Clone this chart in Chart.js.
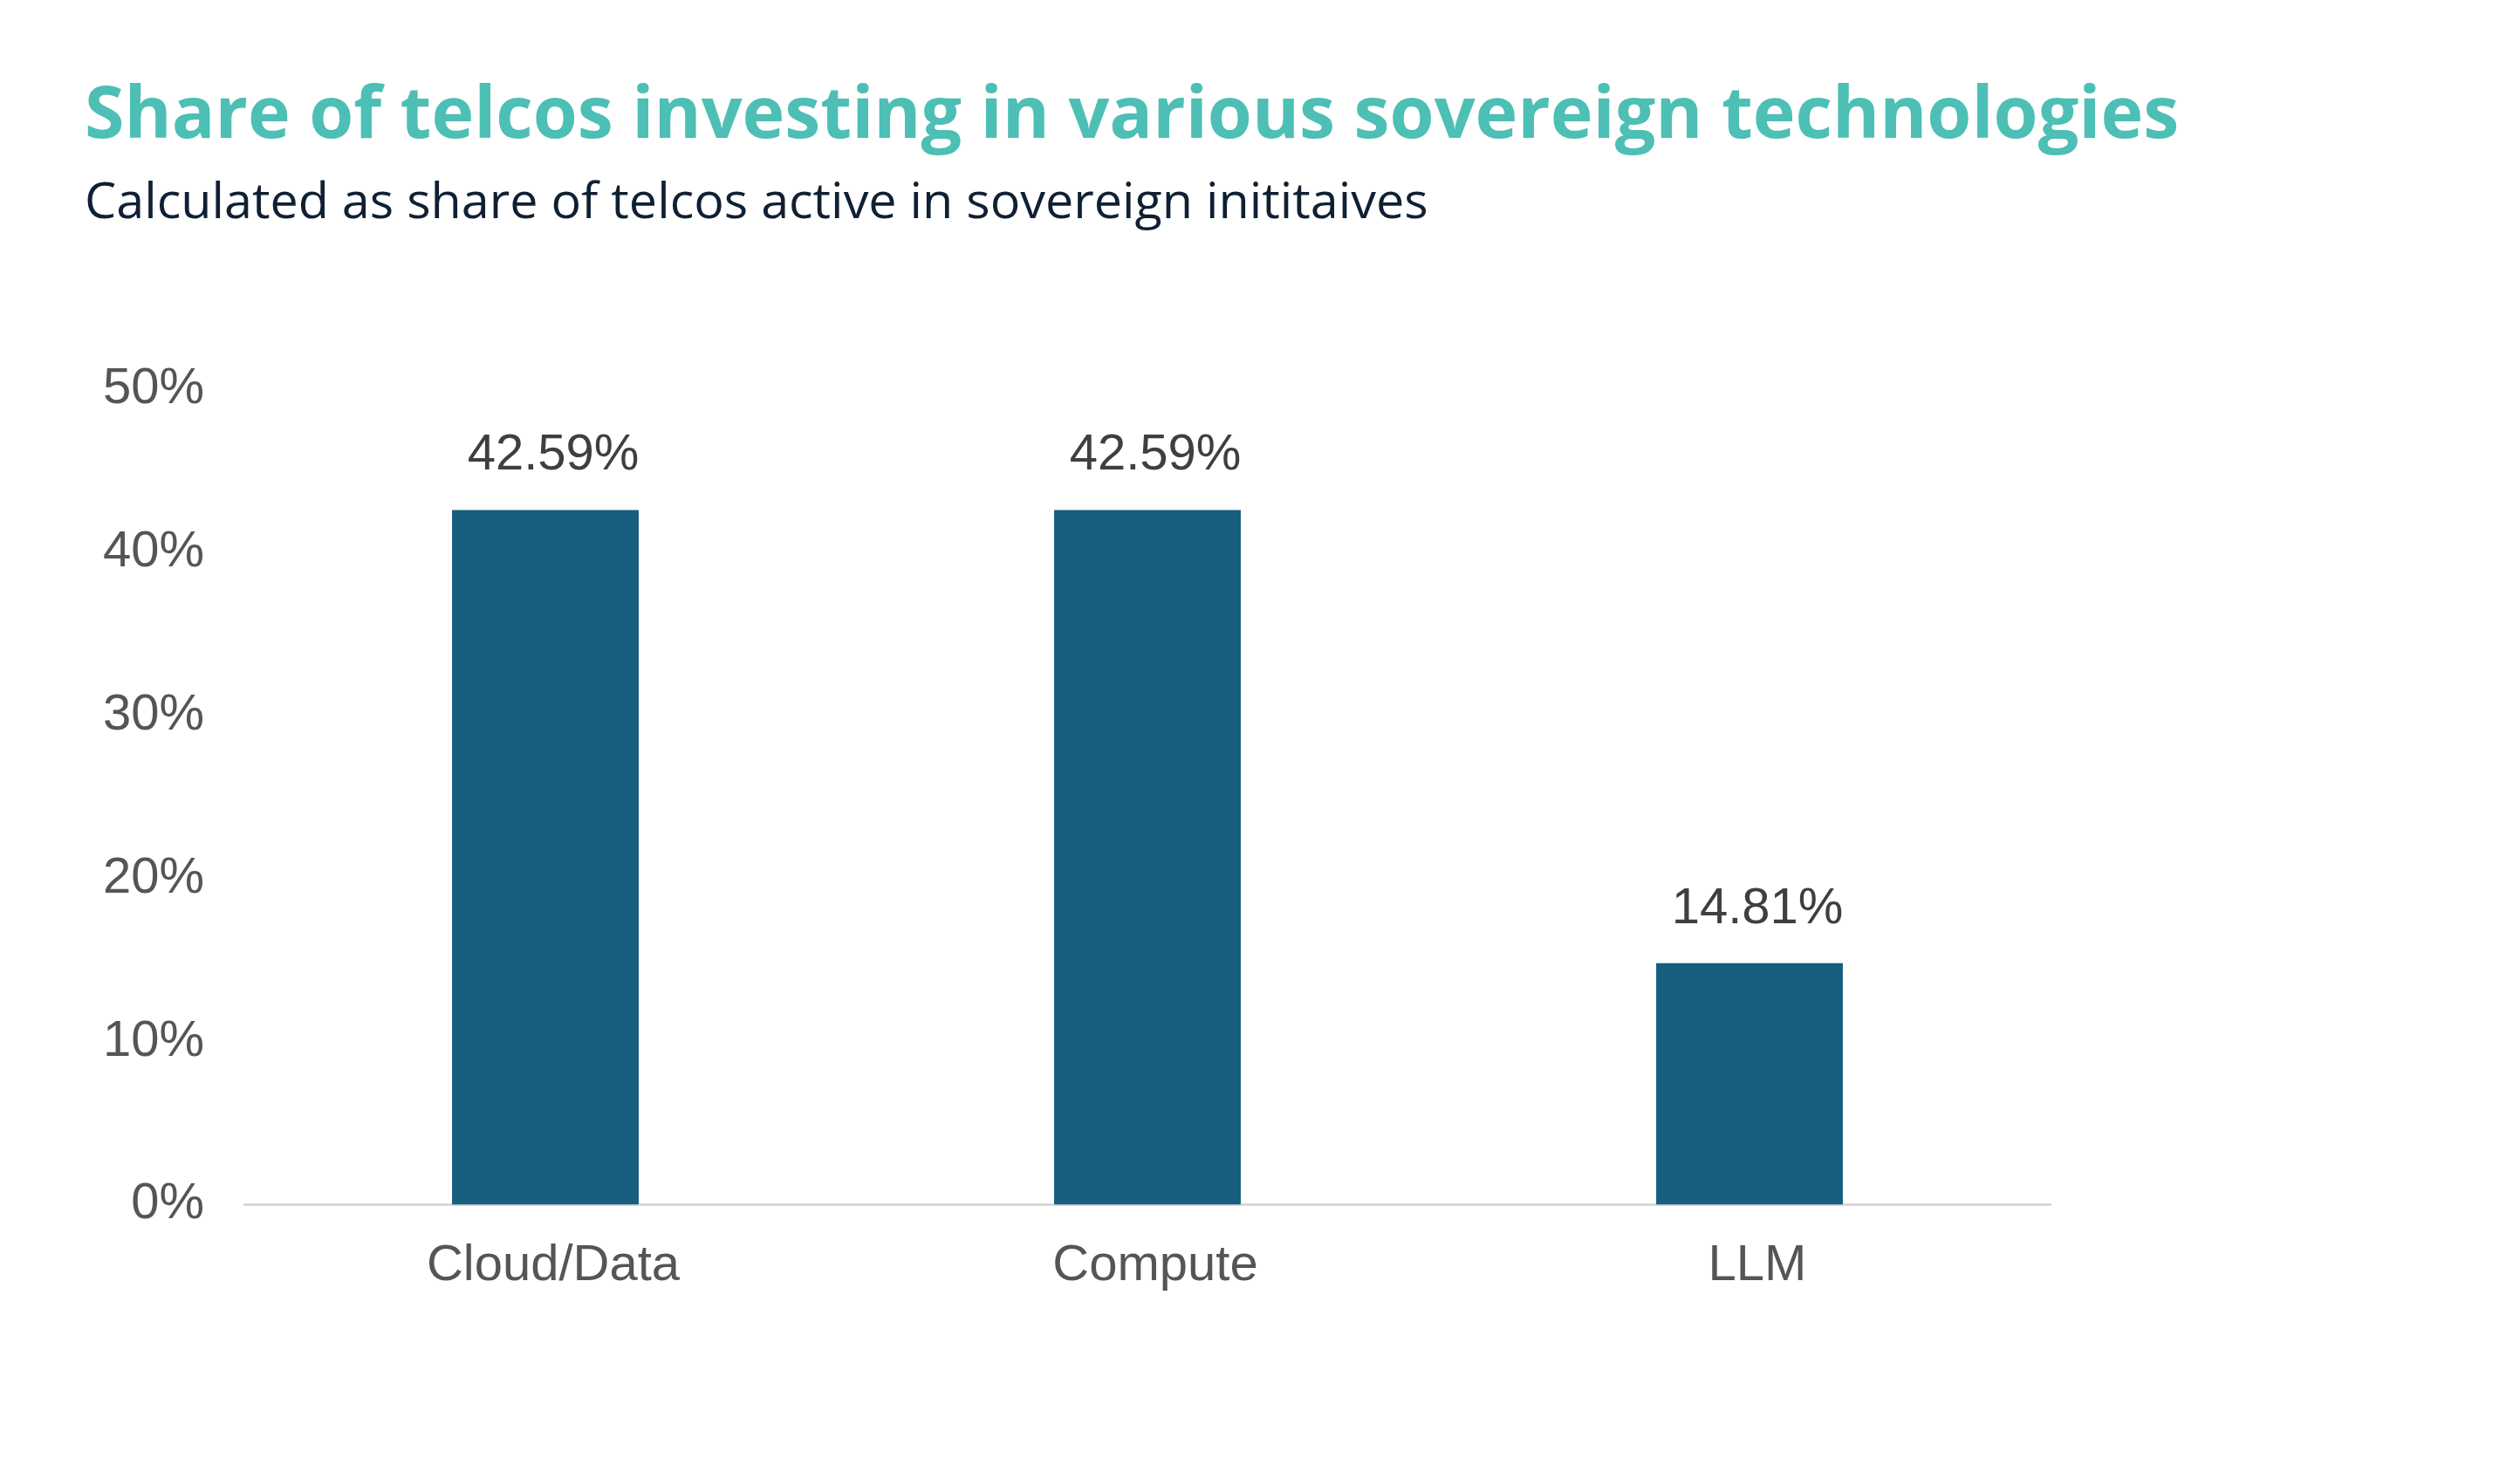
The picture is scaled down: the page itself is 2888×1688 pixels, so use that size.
<!DOCTYPE html>
<html>
<head>
<meta charset="utf-8">
<script src="https://cdn.jsdelivr.net/npm/chart.js@4.4.1/dist/chart.umd.min.js"></script>
<style>
  html, body { margin: 0; padding: 0; background: #ffffff; }
  #wrap { width: 2888px; height: 1688px; position: relative; overflow: hidden; }
  #c { position: absolute; left: 0; top: 0; }
  .title {
    position: absolute; left: 97px; top: 85px; margin: 0;
    font-family: "Open Sans", sans-serif; font-weight: 700; font-size: 82.5px;
    line-height: 1; color: #4DBFB5; white-space: nowrap;
  }
  .subtitle {
    position: absolute; left: 97px; top: 200px; margin: 0;
    font-family: "Open Sans", sans-serif; font-weight: 400; font-size: 57.5px;
    line-height: 1; color: #0F2033; white-space: nowrap;
  }
</style>
</head>
<body>
<div id="wrap">
  <canvas id="c" width="2888" height="1688"></canvas>
  <h1 class="title" id="title"></h1>
  <p class="subtitle" id="subtitle"></p>
</div>
<script>
const titleText = "Share of telcos investing in various sovereign technologies";
const subtitleText = "Calculated as share of telcos active in sovereign inititaives";
const categories = ["Cloud/Data", "Compute", "LLM"];
const shareValues = [42.59, 42.59, 14.81];
const yTickValues = [0, 10, 20, 30, 40, 50];

document.getElementById('title').textContent = titleText;
document.getElementById('subtitle').textContent = subtitleText;

const barLabels = {
  id: 'barLabels',
  afterDatasetsDraw(chart) {
    const ctx = chart.ctx;
    const meta = chart.getDatasetMeta(0);
    ctx.save();
    ctx.font = '58px "Liberation Sans", Arial, sans-serif';
    ctx.fillStyle = '#3F3F3F';
    ctx.textAlign = 'center';
    ctx.textBaseline = 'alphabetic';
    meta.data.forEach((bar, i) => {
      ctx.fillText(shareValues[i].toFixed(2) + '%', bar.x + 9, bar.y - 46);
    });
    ctx.restore();
  }
};

new Chart(document.getElementById('c'), {
  type: 'bar',
  data: {
    labels: categories,
    datasets: [{
      data: shareValues,
      backgroundColor: '#175E7F',
      borderWidth: 0,
      barPercentage: 0.31,
      categoryPercentage: 1.0
    }]
  },
  options: {
    responsive: false,
    animation: false,
    devicePixelRatio: 1,
    layout: { padding: { left: 97, right: 538, top: 446, bottom: 166 } },
    plugins: {
      legend: { display: false },
      tooltip: { enabled: false },
      title: { display: false },
      subtitle: { display: false }
    },
    scales: {
      x: {
        grid: { display: false, drawTicks: false },
        border: { display: true, color: '#D9D9D9', width: 3 },
        ticks: {
          color: '#555555',
          font: { family: '"Liberation Sans", Arial, sans-serif', size: 58 },
          padding: 36,
          labelOffset: 9
        }
      },
      y: {
        min: 0,
        max: 50,
        afterFit(scale) { scale.width = 183; },
        afterBuildTicks(scale) { scale.ticks = yTickValues.map(v => ({ value: v })); },
        grid: { display: false, drawTicks: false },
        border: { display: false },
        ticks: {
          color: '#555555',
          font: { family: '"Liberation Sans", Arial, sans-serif', size: 58 },
          padding: 46,
          callback: (v) => v + '%'
        }
      }
    }
  },
  plugins: [barLabels]
});
</script>
</body>
</html>
